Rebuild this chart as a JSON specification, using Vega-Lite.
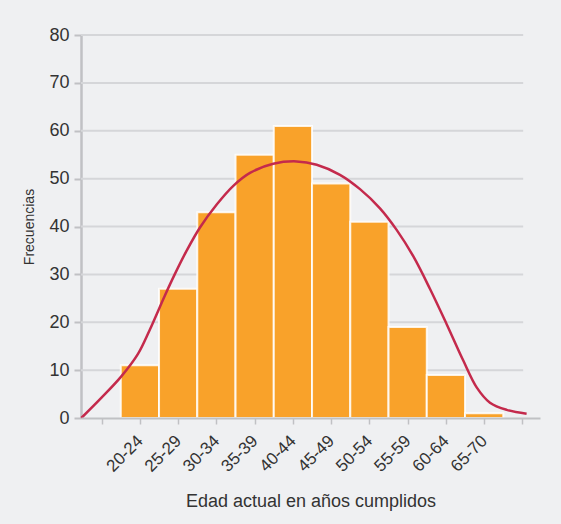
{
  "$schema": "https://vega.github.io/schema/vega-lite/v6.json",
  "width": 459,
  "height": 383,
  "autosize": {"type": "none"},
  "padding": {"left": 81, "top": 35, "right": 21, "bottom": 106},
  "background": "#eff0f2",
  "config": {"view": {"stroke": null}, "font": "Liberation Sans"},
  "datasets": {
    "grid": [
      {"nivel": 10}, {"nivel": 20}, {"nivel": 30}, {"nivel": 40},
      {"nivel": 50}, {"nivel": 60}, {"nivel": 70}, {"nivel": 80}
    ],
    "barras": [
      {"grupo": "20-24", "desde": 20, "hasta": 25, "frecuencia": 11},
      {"grupo": "25-29", "desde": 25, "hasta": 30, "frecuencia": 27},
      {"grupo": "30-34", "desde": 30, "hasta": 35, "frecuencia": 43},
      {"grupo": "35-39", "desde": 35, "hasta": 40, "frecuencia": 55},
      {"grupo": "40-44", "desde": 40, "hasta": 45, "frecuencia": 61},
      {"grupo": "45-49", "desde": 45, "hasta": 50, "frecuencia": 49},
      {"grupo": "50-54", "desde": 50, "hasta": 55, "frecuencia": 41},
      {"grupo": "55-59", "desde": 55, "hasta": 60, "frecuencia": 19},
      {"grupo": "60-64", "desde": 60, "hasta": 65, "frecuencia": 9},
      {"grupo": "65-70", "desde": 65, "hasta": 70, "frecuencia": 1}
    ],
    "curva": [
      {"edad": 14.84, "frecuencia": 0},
      {"edad": 17.45, "frecuencia": 4.2},
      {"edad": 20.07, "frecuencia": 8.7},
      {"edad": 22.25, "frecuencia": 13.4},
      {"edad": 23.78, "frecuencia": 18.4},
      {"edad": 25.74, "frecuencia": 25.5},
      {"edad": 27.05, "frecuencia": 30.0},
      {"edad": 28.56, "frecuencia": 34.8},
      {"edad": 30.35, "frecuencia": 39.8},
      {"edad": 32.54, "frecuencia": 44.6},
      {"edad": 34.71, "frecuencia": 48.5},
      {"edad": 36.89, "frecuencia": 51.2},
      {"edad": 39.93, "frecuencia": 53.1},
      {"edad": 42.99, "frecuencia": 53.6},
      {"edad": 45.61, "frecuencia": 52.9},
      {"edad": 48.65, "frecuencia": 50.8},
      {"edad": 51.27, "frecuencia": 47.8},
      {"edad": 53.88, "frecuencia": 43.8},
      {"edad": 56.06, "frecuencia": 39.3},
      {"edad": 58.23, "frecuencia": 33.8},
      {"edad": 60.41, "frecuencia": 27.0},
      {"edad": 62.6, "frecuencia": 19.6},
      {"edad": 64.77, "frecuencia": 12.0},
      {"edad": 66.52, "frecuencia": 6.4},
      {"edad": 68.26, "frecuencia": 3.2},
      {"edad": 70.44, "frecuencia": 1.7},
      {"edad": 73.05, "frecuencia": 0.9}
    ]
  },
  "layer": [
    {
      "data": {"name": "grid"},
      "mark": {"type": "rule", "color": "#d5d6d9", "strokeWidth": 2},
      "encoding": {
        "y": {"field": "nivel", "type": "quantitative", "scale": {"domain": [0, 80]},
          "axis": {"title": "Frecuencias", "values": [0, 10, 20, 30, 40, 50, 60, 70, 80], "grid": false, "domainColor": "#c0c1c4", "domainWidth": 2.5, "tickColor": "#c0c1c4", "tickSize": 7, "tickWidth": 2, "labelFontSize": 18, "labelColor": "#333333", "labelPadding": 5, "titleFontSize": 14, "titleFontWeight": "normal", "titleColor": "#333333", "titlePadding": 12}},
        "x": {"datum": 14.8, "type": "quantitative", "scale": {"domain": [14.8, 74.8], "nice": false, "zero": false},
          "axis": {"title": "Edad actual en años cumplidos", "values": [17.5, 22.5, 27.5, 32.5, 37.5, 42.5, 47.5, 52.5, 57.5, 62.5, 67.5, 72.5], "labelExpr": "datum.value < 20 || datum.value > 70 ? '' : datum.value > 65 ? '65-70' : (datum.value - 2.5) + '-' + (datum.value + 1.5)", "labelAngle": -45, "labelAlign": "right", "labelBaseline": "middle", "labelFontSize": 17, "labelColor": "#333333", "labelPadding": 14, "labelOverlap": false, "tickSize": 6, "tickWidth": 1.5, "tickColor": "#c0c1c4", "grid": false, "domainColor": "#c0c1c4", "domainWidth": 2, "titleFontSize": 18, "titleFontWeight": "normal", "titleColor": "#333333", "titlePadding": 18, "zindex": 1}},
        "x2": {"datum": 72.6}
      }
    },
    {
      "data": {"name": "barras"},
      "mark": {"type": "bar", "color": "#f9a22a", "stroke": "#ffffff", "strokeWidth": 2, "strokeOpacity": 0.85},
      "encoding": {
        "x": {"field": "desde", "type": "quantitative", "scale": {"domain": [14.8, 74.8], "nice": false, "zero": false},
          "axis": {"title": "Edad actual en años cumplidos", "values": [17.5, 22.5, 27.5, 32.5, 37.5, 42.5, 47.5, 52.5, 57.5, 62.5, 67.5, 72.5], "labelExpr": "datum.value < 20 || datum.value > 70 ? '' : datum.value > 65 ? '65-70' : (datum.value - 2.5) + '-' + (datum.value + 1.5)", "labelAngle": -45, "labelAlign": "right", "labelBaseline": "middle", "labelFontSize": 17, "labelColor": "#333333", "labelPadding": 14, "labelOverlap": false, "tickSize": 6, "tickWidth": 1.5, "tickColor": "#c0c1c4", "grid": false, "domainColor": "#c0c1c4", "domainWidth": 2, "titleFontSize": 18, "titleFontWeight": "normal", "titleColor": "#333333", "titlePadding": 18, "zindex": 1}},
        "x2": {"field": "hasta"},
        "y": {"field": "frecuencia", "type": "quantitative", "scale": {"domain": [0, 80]},
          "axis": {"title": "Frecuencias", "values": [0, 10, 20, 30, 40, 50, 60, 70, 80], "grid": false, "domainColor": "#c0c1c4", "domainWidth": 2.5, "tickColor": "#c0c1c4", "tickSize": 7, "tickWidth": 2, "labelFontSize": 18, "labelColor": "#333333", "labelPadding": 5, "titleFontSize": 14, "titleFontWeight": "normal", "titleColor": "#333333", "titlePadding": 12}},
        "y2": {"datum": 0}
      }
    },
    {
      "data": {"name": "curva"},
      "mark": {"type": "line", "color": "#c42a4c", "strokeWidth": 2.5, "interpolate": "catmull-rom"},
      "encoding": {
        "x": {"field": "edad", "type": "quantitative", "scale": {"domain": [14.8, 74.8], "nice": false, "zero": false},
          "axis": {"title": "Edad actual en años cumplidos", "values": [17.5, 22.5, 27.5, 32.5, 37.5, 42.5, 47.5, 52.5, 57.5, 62.5, 67.5, 72.5], "labelExpr": "datum.value < 20 || datum.value > 70 ? '' : datum.value > 65 ? '65-70' : (datum.value - 2.5) + '-' + (datum.value + 1.5)", "labelAngle": -45, "labelAlign": "right", "labelBaseline": "middle", "labelFontSize": 17, "labelColor": "#333333", "labelPadding": 14, "labelOverlap": false, "tickSize": 6, "tickWidth": 1.5, "tickColor": "#c0c1c4", "grid": false, "domainColor": "#c0c1c4", "domainWidth": 2, "titleFontSize": 18, "titleFontWeight": "normal", "titleColor": "#333333", "titlePadding": 18, "zindex": 1}},
        "y": {"field": "frecuencia", "type": "quantitative", "scale": {"domain": [0, 80]},
          "axis": {"title": "Frecuencias", "values": [0, 10, 20, 30, 40, 50, 60, 70, 80], "grid": false, "domainColor": "#c0c1c4", "domainWidth": 2.5, "tickColor": "#c0c1c4", "tickSize": 7, "tickWidth": 2, "labelFontSize": 18, "labelColor": "#333333", "labelPadding": 5, "titleFontSize": 14, "titleFontWeight": "normal", "titleColor": "#333333", "titlePadding": 12}}
      }
    }
  ]
}
